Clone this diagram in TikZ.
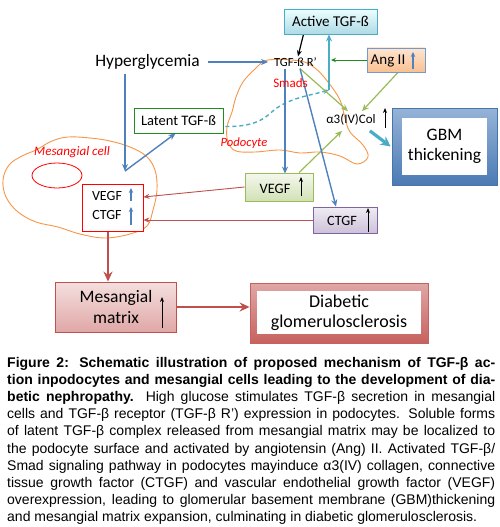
\documentclass[tikz,border=0pt]{standalone}
\usepackage{fontspec}
\setmainfont{Carlito}
\newfontfamily\capfont{Liberation Sans}
\usetikzlibrary{arrows.meta,calc}
\definecolor{oblue}{HTML}{4F81BD}
\definecolor{ocyan}{HTML}{4BACC6}
\definecolor{ogreen}{HTML}{9BBB59}
\definecolor{ored}{HTML}{C0504D}
\definecolor{oorange}{HTML}{F79646}
\definecolor{dgreen}{HTML}{1E8C1E}
\definecolor{opurple}{HTML}{8064A2}
\pgfdeclarelayer{back}
\pgfdeclarelayer{conn}
\pgfsetlayers{back,conn,main}
\newcommand{\fsz}[1]{\fontsize{#1}{#1}\selectfont}
\begin{document}
\begin{tikzpicture}[x=1pt,y=-1pt,
  txt/.style={inner sep=0pt},
  boxbase/.style={draw, line width=0.8pt, inner sep=0pt},
  blarr/.style={draw=oblue, line width=1.4pt, -{Stealth[length=7pt,width=6pt]}},
  olarr/.style={draw=ogreen, line width=1.2pt, -{Stealth[length=7pt,width=6pt]}},
  rdthin/.style={draw=ored, line width=0.9pt, -{Stealth[length=6pt,width=5pt]}},
  rdthick/.style={draw=ored, line width=2.6pt, -{Stealth[length=10pt,width=9pt]}},
  uparr/.style={draw=black, line width=1pt, -{Stealth[length=5pt,width=4pt]}},
  uparrb/.style={draw=oblue, line width=1.4pt, -{Stealth[length=5pt,width=4.5pt]}},
  cellline/.style={draw=oorange, line width=0.9pt}
]
\useasboundingbox (0,0) rectangle (499,527);
\begin{pgfonlayer}{back}
\fill[white] (0,0) rectangle (499,527);
% cell outlines
\draw[cellline] plot[smooth cycle, tension=0.6] coordinates {
 (3,180) (9,165) (22,156) (36,150) (52,141) (68,137) (90,138) (110,141) (130,147)
 (146,156) (155,170) (157,190) (153,210) (147,226) (130,234) (105,238) (80,234)
 (58,227) (36,222) (18,212) (6,197)};
\draw[cellline] plot[smooth cycle, tension=0.6] coordinates {
 (268,60) (255,69) (243,82) (236,97) (232,112) (227,127) (228,142) (236,151)
 (255,152) (280,150) (300,153) (320,152) (340,156) (357,164) (368,157) (363,145)
 (350,132) (345,118) (340,100) (328,82) (315,68) (300,61)};
\draw[red, line width=0.8pt] (57,175.5) ellipse [x radius=25, y radius=12.5];
\end{pgfonlayer}

% boxes
\node[boxbase, draw=ocyan, top color=white!40!cyan!12, bottom color=ocyan!45,
      minimum width=93pt, minimum height=25pt, font=\fsz{15}] (active) at (330.5,21.5) {Active TGF-ß};
\node[boxbase, draw=oblue!80, top color=oorange!25, bottom color=oorange!60,
      minimum width=58pt, minimum height=24pt] (angii) at (396,60) {};
\node[boxbase, draw=dgreen, fill=white, minimum width=89pt, minimum height=25pt,
      font=\fsz{14.5}] (latent) at (178.5,120.5) {Latent TGF-ß};
\node[boxbase, draw=red, fill=white, minimum width=61pt, minimum height=47pt] (mvc) at (112.5,207.5) {};
\node[boxbase, draw=ogreen, top color=ogreen!10, bottom color=ogreen!45,
      minimum width=68pt, minimum height=28pt] (vegf) at (279,187) {};
\node[boxbase, draw=opurple, top color=opurple!12, bottom color=opurple!40,
      minimum width=64pt, minimum height=26pt] (ctgf) at (345,220) {};
\node[boxbase, draw=ored, top color=ored!18, bottom color=ored!50,
      minimum width=121pt, minimum height=50pt] (matrix) at (115.5,307) {};
\node[boxbase, draw=oblue!90!black, top color=oblue!60, bottom color=oblue!95!black,
      minimum width=105pt, minimum height=77pt] (gbm) at (444.5,146.5) {};
\node[inner sep=0pt, fill=white, minimum width=85pt, minimum height=57pt,
      align=center, font=\fsz{17.5}] (gbmin) at (444.5,146.5) {GBM\\[3pt]thickening};
\node[boxbase, draw=ored!90, top color=ored!50, bottom color=ored!90,
      minimum width=178pt, minimum height=60pt] (diab) at (339,313) {};
\node[inner sep=0pt, fill=white, minimum width=164pt, minimum height=43pt,
      align=center, font=\fsz{18}] (diabin) at (339,312.5) {Diabetic\\[2pt]glomerulosclerosis};

% texts
\node[txt, font=\fsz{17.4}] (hyper) at (147.5,62) {Hyperglycemia};
\node[txt, font=\fsz{12.5}] (tgfr) at (295.5,62) {TGF-ß R’};
\node[txt, font=\fsz{13}, text=red] (smads) at (290.5,83) {Smads};
\node[txt, font=\fsz{13}] (alpha) at (351,120) {α3(IV)Col};
\node[txt, font=\itshape\fsz{12.6}, text=red] (podo) at (244,143) {Podocyte};
\node[txt, font=\itshape\fsz{13}, text=red] (mcell) at (72,152) {Mesangial cell};
\node[txt, font=\fsz{15}] (angt) at (388,61) {Ang II};
\node[txt, font=\fsz{14}] (mvegf) at (107,196.5) {VEGF};
\node[txt, font=\fsz{14}] (mctgf) at (107,215.5) {CTGF};
\node[txt, font=\fsz{14.4}] (vegft) at (275,189) {VEGF};
\node[txt, font=\fsz{14.2}] (ctgft) at (342,221) {CTGF};
\node[txt, font=\fsz{17.5}, align=center] (matrixt) at (116,307) {Mesangial\\[3pt]matrix};

% small up arrows
\draw[uparrb] (413,69) -- (413,52);
\draw[uparrb] (131,201) -- (131,188);
\draw[uparrb] (131,225) -- (131,207);
\draw[uparr] (301,196) -- (301,177);
\draw[uparr] (368,232) -- (368,208);
\draw[uparr] (385,128) -- (385,108);
\draw[uparr] (162,328) -- (162,297);

% connectors
\begin{pgfonlayer}{conn}
\coordinate (j1) at (125,171);
\coordinate (cj) at (329,90);
\coordinate (cg) at (331,60);
\coordinate (rv) at (108,231);
\draw[blarr, shorten <=8pt, shorten >=6pt] (hyper.east) -- (tgfr.west |- hyper.east);
\draw[blarr] (j1 |- hyper.south) ++(0,4) -- (j1);
\draw[blarr] (j1) -- ($(latent.south)+(-3,0)$);
\draw[black, line width=1.2pt, -{Stealth[length=6pt,width=5pt]}] ($(active.south)+(-27,0)$) -- ($(tgfr.north)+(2.5,-1)$);
\draw[ocyan, line width=2.2pt, -{Stealth[length=7pt,width=6pt]}] (cj) -- (cj |- active.south);
\draw[ocyan, line width=1.4pt, dash pattern=on 4pt off 3pt, -{Stealth[length=6pt,width=5pt]}]
  ($(latent.east)+(2,6)$) .. controls (265,127) and (268,112) .. (280,106)
  .. controls (295,97) and (312,95) .. (cj);
\draw[dgreen, line width=0.9pt, -{Stealth[length=5pt,width=4.5pt,open]}] (angii.west) -- (cg);
\draw[olarr] ($(tgfr.south)+(4.5,2)$) -- ($(alpha.north)+(-3,-3)$);
\draw[olarr] ($(angii.south)+(2,0)$) -- ($(alpha.north)+(11,-3)$);
\draw[olarr] ($(vegf.north)+(20,0)$) -- ($(alpha.south)+(-9,5)$);
\draw[blarr] ($(tgfr.south)+(-10.5,2)$) -- ($(vegf.north)+(6,1)$);
\draw[blarr] ($(tgfr.south)+(4.5,2)$) -- ($(ctgf.north)+(-9,0)$);
\draw[ocyan, line width=3.2pt, -{Stealth[length=10pt,width=10pt]}] ($(alpha.south east)+(-6,5)$) -- ($(gbm.west)+(-1,0)$);
\draw[rdthin] (vegf.west) -- ($(mvc.east)+(0,-10.5)$);
\draw[rdthin] (ctgf.west) -- (mvc.east |- ctgf.west);
\draw[rdthick] (rv) -- (rv |- matrix.north);
\draw[rdthick] (matrix.east) -- (matrix.east -| diab.west);
\end{pgfonlayer}

% caption
\node[anchor=base west, inner sep=0pt, font=\capfont\fsz{14}] (caption) at (7,367.5) {%
\begin{minipage}[t]{488pt}\setlength{\parindent}{0pt}\setlength{\baselineskip}{17.1pt}%
\makebox[488pt][s]{\textbf{Figure 2: Schematic illustration of proposed mechanism of TGF-β ac-}}\par
\makebox[488pt][s]{\textbf{tion inpodocytes and mesangial cells leading to the development of dia-}}\par
\makebox[488pt][s]{\textbf{betic nephropathy.} High glucose stimulates TGF-β secretion in mesangial}\par
\makebox[488pt][s]{cells and TGF-β receptor (TGF-β R’) expression in podocytes. Soluble forms}\par
\makebox[488pt][s]{of latent TGF-β complex released from mesangial matrix may be localized to}\par
\makebox[488pt][s]{the podocyte surface and activated by angiotensin (Ang) II. Activated TGF-β/}\par
\makebox[488pt][s]{Smad signaling pathway in podocytes mayinduce α3(IV) collagen, connective}\par
\makebox[488pt][s]{tissue growth factor (CTGF) and vascular endothelial growth factor (VEGF)}\par
\makebox[488pt][s]{overexpression, leading to glomerular basement membrane (GBM)thickening}\par
and mesangial matrix expansion, culminating in diabetic glomerulosclerosis.
\end{minipage}};
\end{tikzpicture}
\end{document}
